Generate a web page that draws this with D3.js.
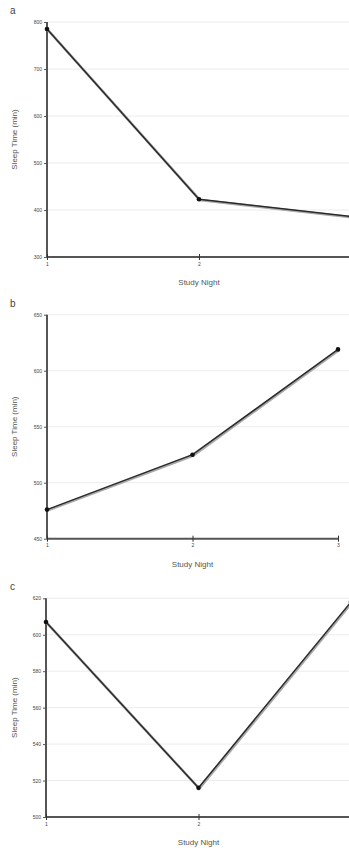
<!DOCTYPE html>
<html>
<head>
<meta charset="utf-8">
<script src="https://cdn.jsdelivr.net/npm/d3@7"></script>
<style>
  body { margin: 0; background: #fff; }
  svg { display: block; font-family: 'Liberation Sans', Arial, sans-serif; }
</style>
</head>
<body>
<div id="chart"></div>
<script>
// study nights on the x axis
const nights = [1, 2, 3];

// sleep time (min) per panel
const sleepA = [785, 423, 386];
const sleepB = [476, 525, 619];
const sleepC = [607, 516, 618];

// y tick labels per panel
const ticksA = [300, 400, 500, 600, 700, 800];
const ticksB = [450, 500, 550, 600, 650];
const ticksC = [500, 520, 540, 560, 580, 600, 620];

const panelLabels = ['a', 'b', 'c'];

const width = 349;
const height = 852;

const svg = d3.select('#chart')
  .append('svg')
  .attr('width', width)
  .attr('height', height);

// soft shadow under the line, the original looks slightly blurred
const defs = svg.append('defs');
const f = defs.append('filter').attr('id', 'soft')
  .attr('x', '-5%').attr('y', '-5%').attr('width', '110%').attr('height', '110%');
f.append('feGaussianBlur').attr('stdDeviation', 0.5);

function drawPanel(opts) {
  const g = svg.append('g');

  const x = d3.scaleLinear()
    .domain([1, 3])
    .range([opts.left, opts.right]);

  const y = d3.scaleLinear()
    .domain(d3.extent(opts.ticks))
    .range([opts.bottom, opts.top]);

  // faint horizontal grid
  g.selectAll('.grid')
    .data(opts.ticks.slice(1))
    .enter().append('line')
    .attr('x1', opts.left)
    .attr('x2', width)
    .attr('y1', d => y(d))
    .attr('y2', d => y(d))
    .attr('stroke', '#ececec')
    .attr('stroke-width', 1);

  // y axis
  const yAxis = d3.axisLeft(y)
    .tickValues(opts.ticks)
    .tickSize(3)
    .tickPadding(2);
  const yg = g.append('g')
    .attr('transform', 'translate(' + opts.left + ',0)')
    .call(yAxis);
  yg.select('.domain').attr('stroke', '#555').attr('stroke-width', 2)
    .attr('d', 'M0,' + opts.bottom + 'V' + opts.top);
  yg.selectAll('.tick line').attr('stroke', '#555');
  yg.selectAll('.tick text').attr('font-size', 5).attr('fill', '#444');

  // x axis - only nights that fall inside the picture
  const xAxis = d3.axisBottom(x)
    .tickValues(nights.filter(n => x(n) <= width))
    .tickFormat(d3.format('d'))
    .tickSize(3)
    .tickPadding(2);
  const xg = g.append('g')
    .attr('transform', 'translate(0,' + opts.bottom + ')')
    .call(xAxis);
  xg.select('.domain').attr('stroke', '#555').attr('stroke-width', 2)
    .attr('d', 'M' + opts.left + ',0H' + Math.min(width, opts.right));
  xg.selectAll('.tick line').attr('stroke', '#333').attr('y1', -3);
  xg.selectAll('.tick text').attr('font-size', 5).attr('fill', '#444');

  // axis titles
  g.append('text')
    .attr('x', (opts.left + opts.right) / 2)
    .attr('y', opts.bottom + 28)
    .attr('text-anchor', 'middle')
    .attr('font-size', 8)
    .attr('fill', '#555')
    .text('Study Night');

  g.append('text')
    .attr('transform', 'translate(17,' + (opts.top + opts.bottom) / 2 + ') rotate(-90)')
    .attr('text-anchor', 'middle')
    .attr('font-size', 8)
    .attr('fill', '#555')
    .text('Sleep Time (min)');

  // panel letter
  g.append('text')
    .attr('x', 10)
    .attr('y', opts.top - 8)
    .attr('font-size', 10)
    .attr('fill', '#444')
    .text(opts.label);

  // the series
  const line = d3.line()
    .x((d, i) => x(nights[i]))
    .y(d => y(d));

  g.append('path')
    .datum(opts.values)
    .attr('d', line)
    .attr('fill', 'none')
    .attr('stroke', '#aaa')
    .attr('stroke-width', 2.6)
    .attr('transform', 'translate(0.8,0.8)')
    .attr('filter', 'url(#soft)');

  g.append('path')
    .datum(opts.values)
    .attr('d', line)
    .attr('fill', 'none')
    .attr('stroke', '#2a2a2a')
    .attr('stroke-width', 1.5);

  g.selectAll('.pt')
    .data(opts.values)
    .enter().append('circle')
    .attr('cx', (d, i) => x(nights[i]))
    .attr('cy', d => y(d))
    .attr('r', 2.3)
    .attr('fill', '#111');
}

drawPanel({label: panelLabels[0], values: sleepA, ticks: ticksA, left: 47, right: 351, top: 22, bottom: 257});
drawPanel({label: panelLabels[1], values: sleepB, ticks: ticksB, left: 47, right: 338, top: 314.7, bottom: 538.7});
drawPanel({label: panelLabels[2], values: sleepC, ticks: ticksC, left: 46, right: 351, top: 598.3, bottom: 817});
</script>
</body>
</html>
